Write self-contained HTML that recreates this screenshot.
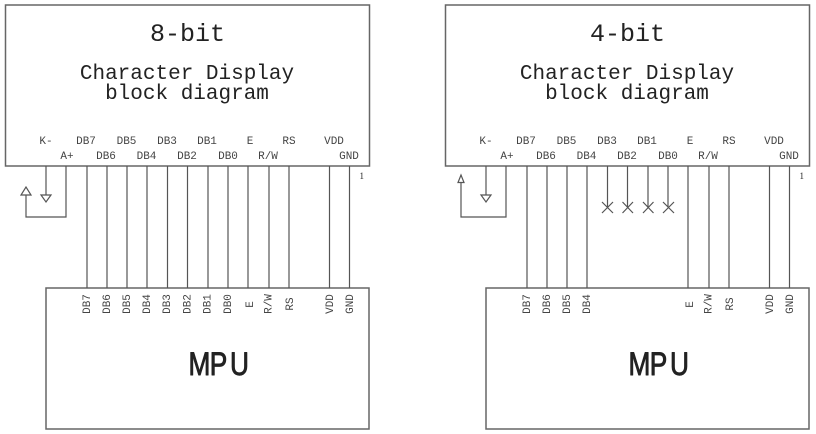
<!DOCTYPE html>
<html><head><meta charset="utf-8"><style>
html,body{margin:0;padding:0;background:#fff;width:816px;height:434px;overflow:hidden}
svg{display:block;filter:blur(0.35px)}
text{font-family:"Liberation Mono",monospace;fill:#222}
.s{font-size:11px;fill:#444;text-anchor:middle}
.r{font-size:11px;fill:#444;text-anchor:middle}
.m{text-anchor:middle}
.p{font-family:"Liberation Sans",sans-serif;font-size:32px;fill:#222;stroke:#222;stroke-width:0.9;stroke-linejoin:round}
.l{stroke:#555;stroke-width:1.2;fill:none}
.b{stroke:#666;stroke-width:1.5;fill:none}
</style></head><body>
<svg width="816" height="434" viewBox="0 0 816 434" xmlns="http://www.w3.org/2000/svg">
<!-- LEFT -->
<rect class="b" x="5.5" y="5" width="364" height="161"/>
<rect class="b" x="46" y="288" width="323" height="141"/>
<text class="m" x="187.5" y="41" font-size="25">8-bit</text>
<text class="m" x="187" y="79" font-size="21">Character Display</text>
<text class="m" x="187" y="99" font-size="21">block diagram</text>
<g>
<text class="s" x="46" y="144">K-</text><text class="s" x="67" y="159">A+</text>
<text class="s" x="86" y="144">DB7</text><text class="s" x="106" y="159">DB6</text>
<text class="s" x="126.500" y="144">DB5</text><text class="s" x="146.500" y="159">DB4</text>
<text class="s" x="167" y="144">DB3</text><text class="s" x="187" y="159">DB2</text>
<text class="s" x="207" y="144">DB1</text><text class="s" x="228" y="159">DB0</text>
<text class="s" x="250" y="144">E</text><text class="s" x="268" y="159">R/W</text>
<text class="s" x="289" y="144">RS</text><text class="s" x="334" y="144">VDD</text>
<text class="s" x="349" y="159">GND</text>
<text x="359.500" y="179" font-size="9" style="font-family:'Liberation Serif',serif">1</text>
</g>
<path class="l" d="M46 166V195M66 166V217H26V195M87 166V288M107 166V288M127 166V288M147 166V288M167.500 166V288M187.500 166V288M208 166V288M228 166V288M248 166V288M269 166V288M289 166V288M329.500 166V288M349.500 166V288"/>
<path class="l" d="M41 195H51L46 202ZM21 195H31L26 187Z"/>
<g class="rot">
<text class="r" transform="translate(90,304) rotate(-90)">DB7</text>
<text class="r" transform="translate(110,304) rotate(-90)">DB6</text>
<text class="r" transform="translate(130,304) rotate(-90)">DB5</text>
<text class="r" transform="translate(150,304) rotate(-90)">DB4</text>
<text class="r" transform="translate(170,304) rotate(-90)">DB3</text>
<text class="r" transform="translate(190.500,304) rotate(-90)">DB2</text>
<text class="r" transform="translate(210.500,304) rotate(-90)">DB1</text>
<text class="r" transform="translate(231,304) rotate(-90)">DB0</text>
<text class="r" transform="translate(253,304.500) rotate(-90)">E</text>
<text class="r" transform="translate(271.500,304) rotate(-90)">R/W</text>
<text class="r" transform="translate(293,304) rotate(-90)">RS</text>
<text class="r" transform="translate(333,304) rotate(-90)">VDD</text>
<text class="r" transform="translate(353,304) rotate(-90)">GND</text>
</g>
<text class="p" transform="translate(188.500,375) scale(0.82,1)" x="0 26 50.600" y="0">MPU</text>
<!-- RIGHT -->
<rect class="b" x="445.500" y="5" width="364" height="161"/>
<rect class="b" x="486" y="288" width="323" height="141"/>
<text class="m" x="627.500" y="41" font-size="25">4-bit</text>
<text class="m" x="627" y="79" font-size="21">Character Display</text>
<text class="m" x="627" y="99" font-size="21">block diagram</text>
<g>
<text class="s" x="486" y="144">K-</text><text class="s" x="507" y="159">A+</text>
<text class="s" x="526" y="144">DB7</text><text class="s" x="546" y="159">DB6</text>
<text class="s" x="566.500" y="144">DB5</text><text class="s" x="586.500" y="159">DB4</text>
<text class="s" x="607" y="144">DB3</text><text class="s" x="627" y="159">DB2</text>
<text class="s" x="647" y="144">DB1</text><text class="s" x="668" y="159">DB0</text>
<text class="s" x="690" y="144">E</text><text class="s" x="708" y="159">R/W</text>
<text class="s" x="729" y="144">RS</text><text class="s" x="774" y="144">VDD</text>
<text class="s" x="789" y="159">GND</text>
<text x="799.500" y="179" font-size="9" style="font-family:'Liberation Serif',serif">1</text>
</g>
<path class="l" d="M486 166V195M506 166V217H461V182M527 166V288M547 166V288M567 166V288M587 166V288M688 166V288M709 166V288M729 166V288M769.500 166V288M789.500 166V288"/>
<path class="l" d="M481 195H491L486 202ZM458 182.500H464L461 175Z"/>
<path class="l" d="M607.500 166V207M627.500 166V207M648 166V207M668 166V207M602 202L613 213M613 202L602 213M622.500 202L633 213M633 202L622.500 213M643 202L653.500 213M653.500 202L643 213M663 202L674 213M674 202L663 213"/>
<g class="rot">
<text class="r" transform="translate(530,304) rotate(-90)">DB7</text>
<text class="r" transform="translate(550,304) rotate(-90)">DB6</text>
<text class="r" transform="translate(570,304) rotate(-90)">DB5</text>
<text class="r" transform="translate(590,304) rotate(-90)">DB4</text>
<text class="r" transform="translate(693,304.500) rotate(-90)">E</text>
<text class="r" transform="translate(711.500,304) rotate(-90)">R/W</text>
<text class="r" transform="translate(733,304) rotate(-90)">RS</text>
<text class="r" transform="translate(773,304) rotate(-90)">VDD</text>
<text class="r" transform="translate(793,304) rotate(-90)">GND</text>
</g>
<text class="p" transform="translate(628.500,375) scale(0.82,1)" x="0 26 50.600" y="0">MPU</text>
</svg>
</body></html>
